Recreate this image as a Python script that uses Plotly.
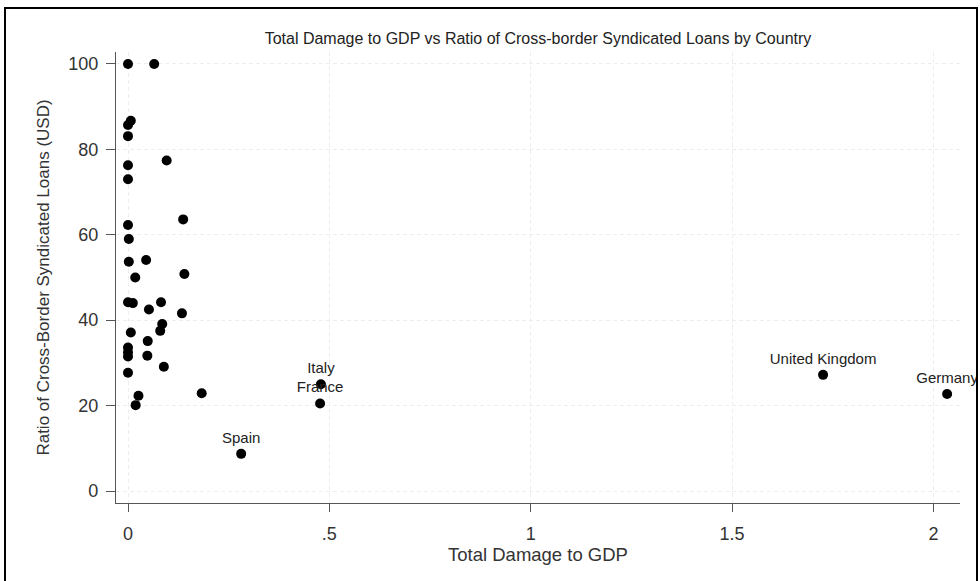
import plotly.graph_objects as go

# Data
damage = [0.0, 0.065, 0.007, 0.0, 0.0, 0.096, 0.0, 0.0, 0.137, 0.0, 0.002,
          0.002, 0.045, 0.018, 0.14, 0.0, 0.012, 0.082, 0.052, 0.134, 0.085,
          0.080, 0.007, 0.049, 0.0, 0.0, 0.0, 0.048, 0.089, 0.0, 0.026,
          0.019, 0.183, 0.281, 0.479, 0.477, 1.726, 2.034]
ratio = [100.0, 100.0, 86.7, 85.7, 83.1, 77.4, 76.3, 73.0, 63.6, 62.3, 59.0,
         53.7, 54.1, 50.0, 50.8, 44.2, 44.0, 44.2, 42.5, 41.6, 39.1,
         37.5, 37.1, 35.1, 33.6, 32.5, 31.5, 31.7, 29.1, 27.7, 22.3,
         20.1, 22.9, 8.7, 25.0, 20.5, 27.2, 22.7]
labels = [""] * 33 + ["Spain", "Italy", "France", "United Kingdom", "Germany"]

x_tickvals = [0, 0.5, 1, 1.5, 2]
x_ticktext = ["0", ".5", "1", "1.5", "2"]
y_tickvals = [0, 20, 40, 60, 80, 100]
y_ticktext = ["0", "20", "40", "60", "80", "100"]

FONT = "Liberation Sans, Arial, sans-serif"

fig = go.Figure()
fig.add_trace(go.Scatter(
    x=damage, y=ratio, mode="markers+text", text=labels,
    textposition="top center",
    textfont=dict(family=FONT, size=15, color="#222"),
    marker=dict(color="black", size=10),
    cliponaxis=False, showlegend=False,
))

tick_font = dict(family=FONT, size=18, color="#333")
L, R, T, B = 116, 20, 52, 78
PW, PH = 980 - L - R, 581 - T - B

fig.update_layout(
    width=980, height=581,
    margin=dict(l=L, r=R, t=T, b=B),
    paper_bgcolor="white", plot_bgcolor="white",
    title=dict(text="Total Damage to GDP vs Ratio of Cross-border Syndicated Loans by Country",
               x=0.5, xref="paper", xanchor="center", y=1 - 38 / 581, yanchor="middle",
               font=dict(family=FONT, size=16, color="#222")),
    xaxis=dict(range=[-0.0298, 2.066], tickvals=x_tickvals, ticktext=x_ticktext,
               showgrid=True, gridcolor="#ededed", griddash="4px,3px", gridwidth=1,
               zeroline=False, showline=True, linecolor="#555", linewidth=1.2,
               ticks="outside", ticklen=8, tickcolor="#555", ticklabelstandoff=6,
               tickfont=tick_font,
               title=dict(text="Total Damage to GDP",
                          font=dict(family=FONT, size=18.5, color="#333"), standoff=2)),
    yaxis=dict(range=[-2.81, 102.8], tickvals=y_tickvals, ticktext=y_ticktext,
               showgrid=True, gridcolor="#ededed", griddash="4px,3px", gridwidth=1,
               zeroline=False, showline=True, linecolor="#555", linewidth=1.2,
               ticks="outside", ticklen=9, tickcolor="#555", ticklabelstandoff=4,
               tickfont=tick_font,
               title=dict(text="Ratio of Cross-Border Syndicated Loans (USD)",
                          font=dict(family=FONT, size=17, color="#333"), standoff=14)),
    shapes=[dict(type="rect", xref="paper", yref="paper",
                 x0=(5 - L) / PW, x1=(977 - L) / PW,
                 y0=(581 - B - 586) / PH, y1=(581 - B - 8) / PH,
                 line=dict(color="black", width=2), fillcolor="rgba(0,0,0,0)",
                 layer="above")],
)

fig.write_html("out.html")
